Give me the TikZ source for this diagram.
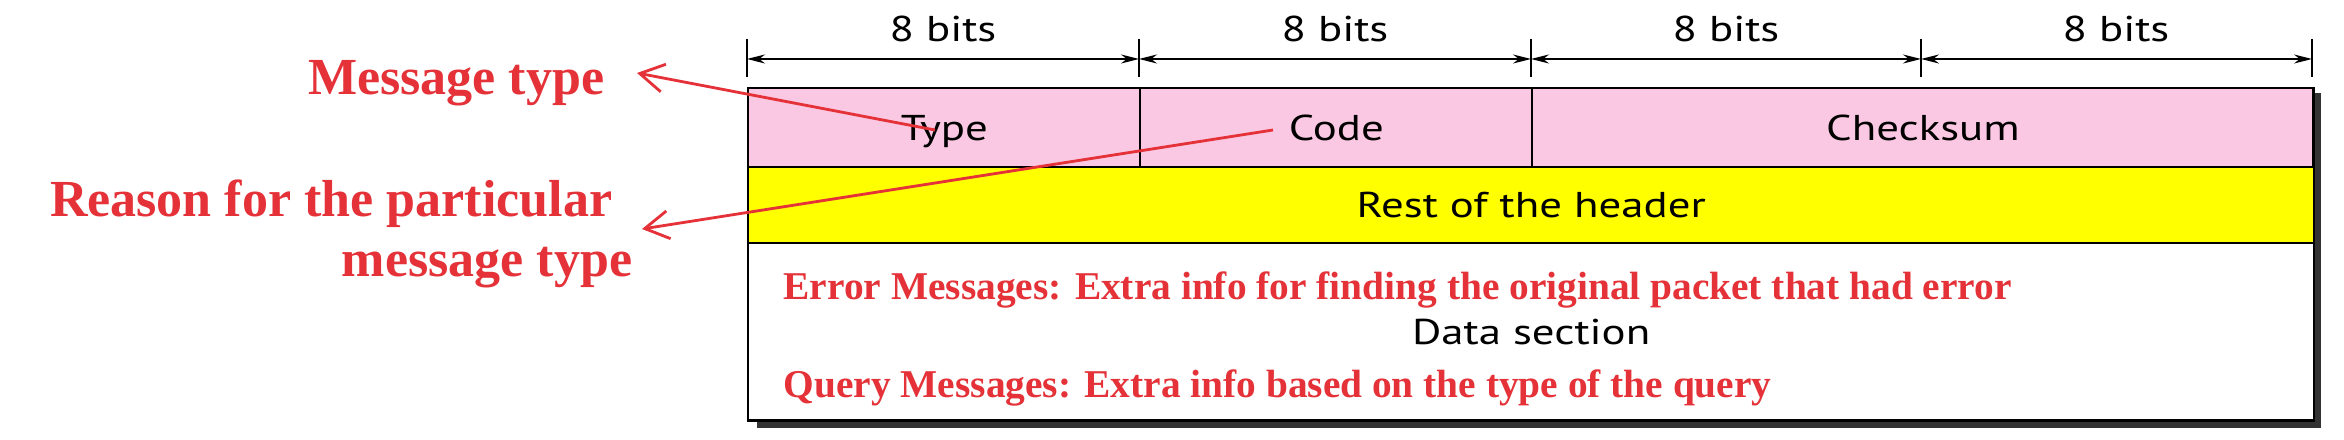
\documentclass[tikz,border=0pt]{standalone}
\usepackage{fontspec}
\setmainfont{Liberation Serif}
\newfontfamily\labelsans[FakeStretch=1.25]{PT Sans}
\usetikzlibrary{arrows.meta}
\definecolor{cellpink}{RGB}{250,200,226}
\definecolor{cellyellow}{RGB}{255,255,0}
\definecolor{notered}{RGB}{228,50,56}
\definecolor{shadowgray}{RGB}{51,51,51}
\begin{document}
\begin{tikzpicture}[x=0.01cm,y=-0.01cm,
  cell/.style={draw=black, line width=0.7pt, inner sep=0pt, anchor=north west,
    font=\labelsans\fontsize{10.2}{12}\selectfont, text height=0.25cm, text depth=0pt},
  bitlabel/.style={anchor=base, inner sep=0pt, font=\labelsans\fontsize{10.2}{12}\selectfont},
  note/.style={text=notered, font=\bfseries\fontsize{14.8}{17}\selectfont, inner sep=0pt, anchor=base east},
  smallnote/.style={text=notered, font=\bfseries\fontsize{11.2}{13}\selectfont, inner sep=0pt, anchor=base west},
  pointer/.style={draw=notered, line width=0.8pt, -{Straight Barb[length=2.4mm,width=2.8mm]}},
  dimline/.style={line width=0.45pt, {Stealth[length=1.8mm,width=0.9mm]}-{Stealth[length=1.8mm,width=0.9mm]}},
  tickmark/.style={line width=0.6pt}
]
\useasboundingbox (0,0) rectangle (2344,440);
% shadow
\fill[shadowgray] (757,93) rectangle (2321,428);
% cells
\node[cell, fill=cellpink, minimum width=3.92cm, minimum height=0.79cm] (type) at (747,87) {Type};
\node[cell, fill=cellpink, minimum width=3.92cm, minimum height=0.79cm] (code) at (1139,87) {Code};
\node[cell, fill=cellpink, minimum width=7.81cm, minimum height=0.79cm] (checksum) at (1531,87) {Checksum};
\node[cell, fill=cellyellow, minimum width=15.65cm, minimum height=0.76cm] (rest) at (747,166) {Rest of the header};
\node[cell, fill=white, minimum width=15.65cm, minimum height=1.77cm] (data) at (747,242) {Data section};
% dimension line
\coordinate (d0) at (747,59);
\coordinate (d1) at (1139,59);
\coordinate (d2) at (1531,59);
\coordinate (d3) at (1921,59);
\coordinate (d4) at (2312,59);
\foreach \d in {d0,d1,d2,d3,d4}
  \draw[tickmark] ([yshift=0.2cm]\d) -- ([yshift=-0.18cm]\d);
\draw[dimline] (d0) -- (d1);
\draw[dimline] (d1) -- (d2);
\draw[dimline] (d2) -- (d3);
\draw[dimline] (d3) -- (d4);
\node[bitlabel] (b1) at (943,42) {8 bits};
\node[bitlabel] (b2) at (1335,42) {8 bits};
\node[bitlabel] (b3) at (1726,42) {8 bits};
\node[bitlabel] (b4) at (2116,42) {8 bits};
% red notes
\node[note] (mt) at (605,95) {Message type};
\node[note] (reason1) at (613,217) {Reason for the particular};
\node[note] (reason2) at (633,277) {message type};
\node[smallnote] (err) at (783,300) {Error Messages: Extra info for finding the original packet that had error};
\node[smallnote] (query) at (783,398) {Query Messages: Extra info based on the type of the query};
% pointers
\coordinate (p1) at (935,130);
\coordinate (p1tip) at (637,73);
\coordinate (p2) at (1273,130);
\coordinate (p2tip) at (642,229);
\draw[pointer] (p1) -- (p1tip);
\draw[pointer] (p2) -- (p2tip);
\end{tikzpicture}
\end{document}
